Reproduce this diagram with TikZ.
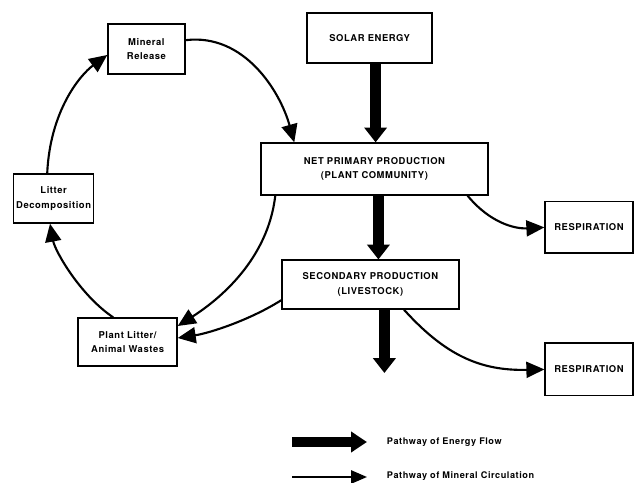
\documentclass[tikz,border=0pt]{standalone}
\usepackage{fontspec}
\usepackage{tikz}
\usetikzlibrary{arrows.meta,positioning,calc}
\newfontfamily\diagfont[LetterSpace=6]{TeX Gyre Heros}
\tikzset{
  box/.style={rectangle, draw=black, line width=0.9pt, fill=white, align=center, inner sep=2pt, font=\diagfont\bfseries\fontsize{6.7}{10.5}\selectfont},
  energy/.style={line width=0.27cm, -{Triangle[length=0.37cm,width=0.55cm]}},
  mineral/.style={line width=1.5pt, -{Triangle[length=0.45cm,width=0.4cm]}},
  legendtext/.style={anchor=west, font=\diagfont\bfseries\fontsize{6.5}{8}\selectfont}
}
\begin{document}
\begin{tikzpicture}
  \useasboundingbox (0,0) rectangle (16,12.075);

  % boxes
  \node[box, minimum width=1.925cm, minimum height=1.25cm] (mrel) at (3.66,10.85) {Mineral\\Release};
  \node[box, minimum width=1.925cm, minimum height=1.225cm] (ldec) at (1.34,7.11) {Litter\\Decomposition};
  \node[box, minimum width=2.475cm, minimum height=1.2cm] (waste) at (3.19,3.525) {Plant Litter/\\Animal Wastes};
  \node[box, minimum width=3.125cm, minimum height=1.25cm] (solar) at (9.24,11.125) {SOLAR ENERGY};
  \node[box, minimum width=5.675cm, minimum height=1.3cm] (npp) at (9.36,7.85) {NET PRIMARY PRODUCTION\\(PLANT COMMUNITY)};
  \node[box, minimum width=4.425cm, minimum height=1.225cm] (sec) at (9.26,4.96) {SECONDARY PRODUCTION\\(LIVESTOCK)};
  \node[box, minimum width=2.2cm, minimum height=1.28cm] (resp1) at (14.725,6.39) {RESPIRATION};
  \node[box, minimum width=2.2cm, minimum height=1.32cm] (resp2) at (14.725,2.84) {RESPIRATION};

  % energy flow
  \coordinate (secout) at (9.61,2.75);
  \draw[energy] ([xshift=0.15cm]solar.south) -- ([xshift=0.15cm]solar.south |- npp.north);
  \draw[energy] ([xshift=0.1cm]npp.south) -- ([xshift=0.1cm]npp.south |- sec.north);
  \draw[energy] ([xshift=0.35cm]sec.south) -- (secout);

  % mineral circulation
  \draw[mineral] ([yshift=0.22cm]mrel.east) .. controls (6.1,11.25) and (7.0,9.8) .. ([xshift=0.85cm]npp.north west);
  \draw[mineral] ([xshift=-0.16cm]ldec.north) .. controls (1.25,9.3) and (2.0,10.2) .. ([yshift=-0.15cm]mrel.west);
  \draw[mineral] ([xshift=-0.36cm]waste.north) .. controls (2.0,4.7) and (1.375,5.8) .. ([xshift=-0.09cm]ldec.south);
  \draw[mineral] ([xshift=0.375cm]npp.south west) .. controls (6.7,5.6) and (5.5,4.6) .. ([yshift=0.4cm]waste.east);
  \draw[mineral] ([yshift=-0.39cm]sec.west) .. controls (6.25,4.075) and (5.25,3.75) .. ([yshift=0.1cm]waste.east);
  \draw[mineral] ([xshift=-0.525cm]npp.south east) .. controls (12.25,6.5) and (12.875,6.35) .. (resp1.west);
  \draw[mineral] ([xshift=0.84cm]sec.south) .. controls (11.125,3.2) and (12.0,2.8) .. (resp2.west);

  % legend
  \coordinate (le1) at (7.3,1.025);
  \coordinate (le2) at (9.175,1.025);
  \coordinate (lm1) at (7.3,0.15);
  \coordinate (lm2) at (9.175,0.15);
  \draw[energy, line width=0.25cm, -{Triangle[length=0.4cm,width=0.5cm]}] (le1) -- (le2);
  \draw[mineral, -{Triangle[length=0.4cm,width=0.33cm]}] (lm1) -- (lm2);
  \node[legendtext] (lenergy) at (9.55,1.03) {Pathway of Energy Flow};
  \node[legendtext] (lmineral) at (9.55,0.18) {Pathway of Mineral Circulation};
\end{tikzpicture}
\end{document}
